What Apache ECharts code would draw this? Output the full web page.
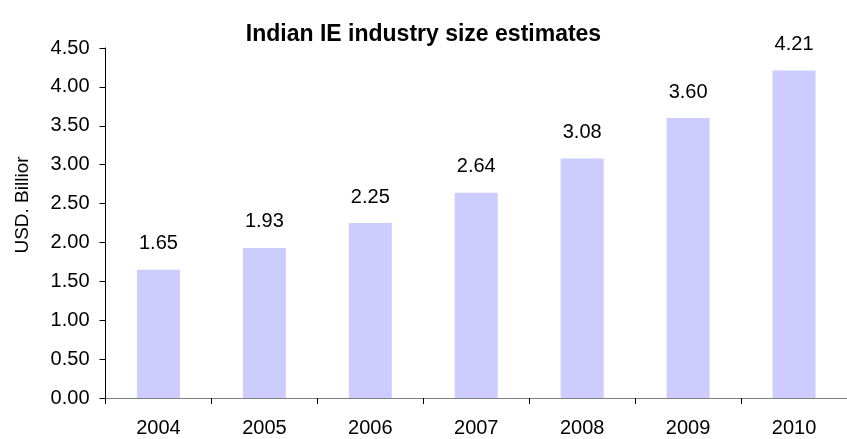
<!DOCTYPE html>
<html>
<head>
<meta charset="utf-8">
<script src="https://cdn.jsdelivr.net/npm/echarts@6/dist/echarts.min.js"></script>
<style>
  html, body { margin: 0; padding: 0; background: #ffffff; }
  #chart { width: 847px; height: 439px; }
</style>
</head>
<body>
<div id="chart"></div>
<script>
// Indian IE industry size, USD billion per year
const years = ['2004', '2005', '2006', '2007', '2008', '2009', '2010'];
const sizeUsdBn = [1.65, 1.93, 2.25, 2.64, 3.08, 3.60, 4.21];
const titleText = 'Indian IE industry size estimates';
const yAxisTitle = 'USD. Billior';

const FONT = '"Liberation Sans", Arial, sans-serif';

const chart = echarts.init(document.getElementById('chart'), null, { renderer: 'canvas' });

chart.setOption({
  backgroundColor: '#ffffff',
  animation: false,
  title: {
    text: titleText,
    left: 'center',
    top: 18,
    textStyle: { fontFamily: FONT, fontWeight: 'bold', fontSize: 23, color: '#000000' }
  },
  grid: { left: 105.5, top: 48, width: 749, bottom: 41, containLabel: false },
  xAxis: {
    type: 'category',
    data: years,
    boundaryGap: true,
    axisLine: { show: true, lineStyle: { color: '#808080', width: 1 } },
    axisTick: { show: true, length: 6, lineStyle: { color: '#000000' } },
    axisLabel: { fontFamily: FONT, fontSize: 20, color: '#000000', margin: 20 },
    splitLine: { show: false }
  },
  yAxis: {
    type: 'value',
    min: 0,
    max: 4.5,
    interval: 0.5,
    axisLine: { show: true, lineStyle: { color: '#000000', width: 1 } },
    axisTick: { show: true, length: 6, lineStyle: { color: '#000000' } },
    axisLabel: {
      fontFamily: FONT, fontSize: 20, color: '#000000', margin: 16,
      formatter: v => v.toFixed(2)
    },
    splitLine: { show: false }
  },
  graphic: [{
    type: 'text',
    x: 22.5,
    y: 205,
    rotation: Math.PI / 2,
    style: {
      text: yAxisTitle,
      fontFamily: FONT,
      fontSize: 19,
      fill: '#000000',
      textAlign: 'center',
      textVerticalAlign: 'middle'
    }
  }],
  series: [{
    type: 'bar',
    data: sizeUsdBn,
    barWidth: 43,
    itemStyle: { color: '#CCCCFF' },
    label: {
      show: true,
      position: 'top',
      distance: 16,
      fontFamily: FONT,
      fontSize: 20,
      color: '#000000',
      formatter: p => p.value.toFixed(2)
    }
  }]
});
</script>
</body>
</html>
